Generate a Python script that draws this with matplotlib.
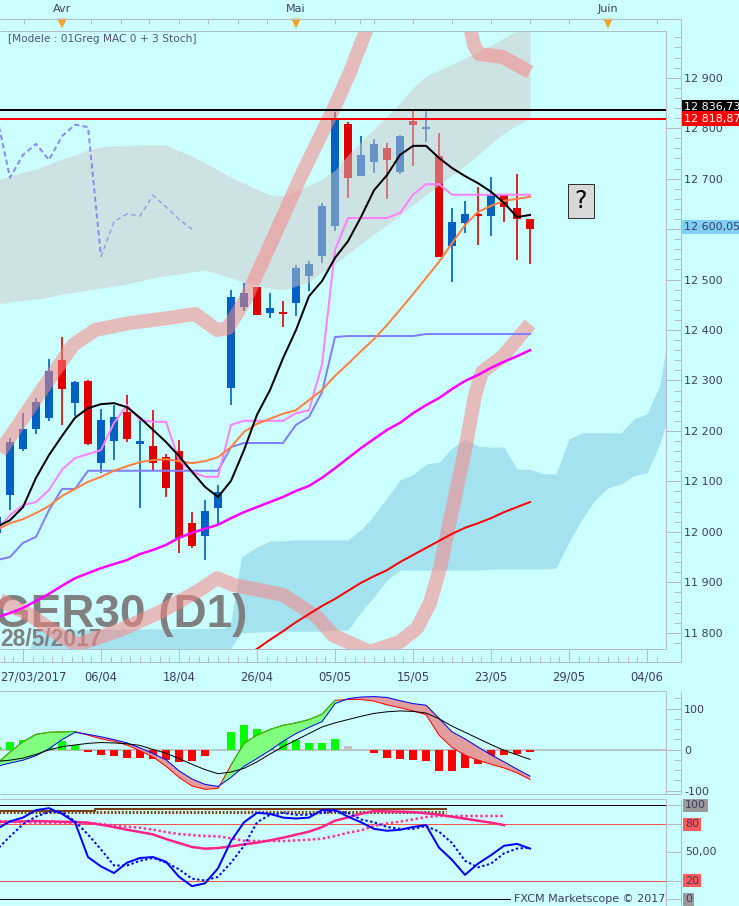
import numpy as np
import matplotlib
matplotlib.use("Agg")
import matplotlib.pyplot as plt
from matplotlib.patches import Rectangle
from matplotlib.transforms import blended_transform_factory
from matplotlib.ticker import FixedLocator, MultipleLocator, FuncFormatter

W, H, DPI = 739, 906, 100
PX = 72.0 / DPI          # one pixel in points
BG = "#ccffff"
FRAME = "#b4bccc"
TXT = "#3c3c64"
UP, DOWN = "#0060c4", "#e00000"

# ---- daily candles, index 40 = 26/05/2017
idx = np.arange(-1, 41)
opens = [11998, 12072, 12164, 12204, 12225, 12340, 12256, 12299, 12137, 12180, 12238, 12174, 12170, 12149,
         12160, 12018, 11992, 12048, 12286, 12446, 12485, 12434, 12436, 12454, 12507, 12547, 12606, 12809,
         12706, 12732, 12761, 12714, 12814, 12798, 12745, 12567, 12613, 12630, 12626, 12667, 12642, 12620]
highs = [12040, 12185, 12235, 12265, 12342, 12387, 12299, 12300, 12243, 12251, 12271, 12228, 12241, 12154,
         12182, 12040, 12063, 12093, 12479, 12494, 12486, 12474, 12458, 12529, 12537, 12652, 12833, 12813,
         12784, 12778, 12771, 12786, 12834, 12837, 12790, 12642, 12656, 12684, 12703, 12667, 12709, 12620]
lows = [11988, 12043, 12160, 12194, 12220, 12212, 12229, 12173, 12117, 12142, 12177, 12047, 12121, 12068,
        11958, 11967, 11944, 12013, 12251, 12438, 12429, 12423, 12406, 12428, 12478, 12533, 12597, 12661,
        12705, 12712, 12660, 12709, 12725, 12773, 12545, 12496, 12593, 12568, 12587, 12615, 12539, 12530]
closes = [12029, 12177, 12204, 12258, 12319, 12283, 12297, 12174, 12222, 12227, 12184, 12180, 12136, 12087,
          11988, 11972, 12041, 12079, 12466, 12474, 12430, 12444, 12431, 12523, 12531, 12646, 12821, 12702,
          12747, 12769, 12737, 12784, 12807, 12802, 12545, 12615, 12630, 12626, 12667, 12644, 12619, 12600]

black_line = [12010, 12023, 12049, 12107, 12152, 12190, 12226, 12245, 12253, 12255, 12247, 12226, 12202, 12178,
              12150, 12119, 12089, 12069, 12101, 12162, 12232, 12281, 12344, 12400, 12467, 12497, 12543, 12576,
              12624, 12677, 12707, 12747, 12765, 12765, 12741, 12721, 12705, 12691, 12674, 12652, 12624, 12628]
pink_line = [12004, 12033, 12053, 12059, 12083, 12123, 12146, 12154, 12162, 12216, 12251, 12222, 12218, 12218,
             12142, 12119, 12109, 12109, 12212, 12220, 12220, 12220, 12220, 12235, 12241, 12331, 12559, 12622,
             12622, 12622, 12622, 12632, 12668, 12689, 12689, 12668, 12668, 12668, 12668, 12668, 12668, 12668]
violet_line = [11944, 11950, 11978, 11990, 12043, 12085, 12085] + [12121] * 11 + [12168] + [12176] * 4 + \
              [12212, 12228, 12277, 12386] + [12388] * 6 + [12392] * 9
orange_line = [12004, 12017, 12025, 12037, 12051, 12071, 12085, 12099, 12109, 12121, 12130, 12138, 12142, 12144,
               12140, 12136, 12140, 12148, 12168, 12198, 12214, 12224, 12234, 12241, 12261, 12281, 12309, 12333,
               12358, 12382, 12410, 12440, 12471, 12503, 12535, 12572, 12608, 12634, 12646, 12656, 12660, 12664]
magenta_line = [11831, 11839, 11849, 11863, 11877, 11893, 11908, 11918, 11928, 11936, 11944, 11956, 11964, 11974,
                11988, 11998, 12006, 12014, 12027, 12039, 12049, 12059, 12069, 12081, 12091, 12107, 12126, 12146,
                12166, 12184, 12202, 12216, 12235, 12251, 12265, 12283, 12299, 12311, 12325, 12337, 12348, 12360]
red_line = [11752, 11768, 11786, 11803, 11821, 11837, 11853, 11867, 11883, 11899, 11912, 11924, 11940, 11954,
            11968, 11982, 11996, 12008, 12017, 12027, 12039, 12049, 12059]   # index 18 .. 40

cloud_top = [12697, 12705, 12713, 12719, 12729, 12739, 12747, 12757, 12763, 12765, 12765, 12767, 12767, 12767,
             12755, 12745, 12731, 12717, 12703, 12691, 12679, 12668, 12666, 12675, 12687, 12699, 12717, 12747,
             12773, 12798, 12824, 12850, 12880, 12903, 12915, 12927, 12939, 12951, 12965, 12979, 12993, 13005]
cloud_bot = [12452, 12455, 12459, 12461, 12465, 12471, 12475, 12479, 12483, 12487, 12491, 12497, 12503, 12507,
             12511, 12515, 12519, 12511, 12503, 12495, 12489, 12483, 12479, 12487, 12495, 12515, 12531, 12551,
             12570, 12590, 12608, 12628, 12648, 12668, 12687, 12707, 12725, 12747, 12769, 12790, 12806, 12820]

cloud2_x = [1.5, 2, 16.5, 17, 17.8, 19, 20, 21, 22, 23, 24, 25, 26, 27, 28, 29, 30, 31, 32, 33, 34, 35, 36,
            37, 38, 39, 40, 41, 42, 43, 44, 45, 46, 47, 48, 49, 50, 50.5]
cloud2_top = [11768, 11805, 11809, 11822, 11950, 11970, 11982, 11982, 11984, 11984, 11984, 11984, 11984, 12004,
              12033, 12067, 12103, 12113, 12134, 12138, 12166, 12184, 12170, 12168, 12168, 12124, 12124, 12115,
              12115, 12184, 12196, 12196, 12196, 12196, 12224, 12234, 12291, 12374]
cloud2_bot = [11746, 11746, 11746, 11770, 11800, 11801, 11803, 11803, 11803, 11803, 11803, 11805, 11805, 11841,
              11871, 11904, 11924, 11924, 11924, 11924, 11924, 11924, 11924, 11926, 11926, 11926, 11926, 11926,
              11928, 11980, 12025, 12063, 12087, 12095, 12111, 12117, 12176, 12216]

band_a_x = [-0.77, 1.15, 3.08, 4.85, 6.54, 9.23, 12.31, 14.23, 15.92, 16.77, 18.08, 19.85, 22.31, 24.85,
            26.15, 27.38, 28.08]
band_a_y = [12158, 12232, 12305, 12370, 12400, 12414, 12424, 12432, 12400, 12404, 12459, 12559, 12701, 12836,
            12911, 12993, 13034]
band_b_x = [35.23, 35.46, 35.69, 36.08, 37.92, 40.0]
band_b_y = [13024, 12993, 12965, 12947, 12941, 12911]
band_c_x = [-0.77, 1.54, 3.85, 5.15, 8.46, 11.54, 14.62, 15.92, 17.15, 21.0, 23.62, 24.85, 27.69, 30.0,
            31.31, 32.31, 33.08, 33.69, 34.46, 35.15, 35.77, 36.31, 37.92, 40.0]
band_c_y = [11865, 11835, 11795, 11776, 11805, 11841, 11885, 11908, 11895, 11875, 11831, 11795, 11762, 11782,
            11809, 11859, 11928, 12004, 12097, 12182, 12271, 12317, 12348, 12412]

last_high = 12836.73
red_level = 12818.87
last_close = 12600.05
chikou_shift = 26

# ---- MACD panel
macd_a = [-34, -6, 19, 37, 42, 43, 44, 35, 26, 20, 11, -3, -18, -41, -68, -89, -97, -95, -38, 15, 35, 49,
          59, 65, 73, 86, 120, 122, 122, 118, 109, 102, 94, 85, 35, 5, -14, -26, -36, -45, -57, -73]
macd_b = [-41, -33, -26, -15, 2, 24, 42, 37, 31, 24, 16, 4, -10, -25, -52, -72, -85, -90, -68, -41, -22, -2,
          20, 39, 54, 68, 112, 124, 128, 129, 127, 119, 112, 108, 76, 43, 26, 6, -13, -30, -48, -65]
macd_sig = [-29, -26, -21, -12, -1, 7, 11, 15, 17, 16, 14, 10, 0, -9, -22, -36, -49, -59, -55, -46, -30, -11,
            7, 23, 39, 55, 65, 73, 81, 88, 92, 94, 93, 89, 75, 57, 42, 27, 12, -2, -13, -24]
macd_hist = [6, 19, 23, 28, 28, 21, 11, -6, -14, -15, -20, -20, -24, -26, -30, -28, -15, 0, 43, 59, 51, 43,
             27, 23, 16, 16, 25, 8, 0, -8, -20, -24, -26, -28, -52, -52, -45, -36, -24, -14, -10, -6]
hist_neutral = [26]

# ---- stochastics panel
sto_k = [75, 83, 87, 95, 97, 91, 82, 45, 35, 28, 39, 44, 45, 40, 24, 14, 17, 33, 62, 82, 92, 91, 87, 86, 87,
         95, 95, 88, 82, 75, 73, 74, 77, 79, 55, 42, 26, 38, 47, 57, 59, 54]
sto_d = [53, 67, 80, 88, 93, 93, 83, 69, 53, 36, 36, 41, 44, 39, 32, 22, 20, 24, 39, 57, 82, 90, 92, 90, 90,
         92, 94, 92, 85, 82, 77, 75, 75, 78, 72, 60, 41, 34, 38, 49, 54, 55]
sto_slow = [82.3, 82.6, 83, 83.3, 83, 82.6, 82.3, 81.6, 79.4, 76.9, 74.1, 71.6, 69.1, 64.2, 59.9, 55.7, 53.9,
            54.6, 56.4, 58.5, 60.3, 62.8, 65.6, 68.8, 72, 76.9, 83.7, 87.2, 91.1, 94, 93.6, 93.3, 92.9, 91.5,
            90.1, 87.9, 85.8, 83.7, 81.6, 79.1]           # index -1 .. 38
sto_slow_d = [83.3, 82.6, 81.9, 81.6, 81.6, 81.6, 81.6, 81.2, 80.1, 78.7, 77.3, 76.2, 74.1, 71.6, 69.5, 68.4,
              67.4, 67, 64.9, 62.4, 62.1, 62.1, 62.1, 62.8, 63.5, 64.5, 67.4, 70.9, 73.4, 78, 80.9, 82.6, 85.1,
              87.6, 88.7, 88.7, 88.7, 88.7, 88.7, 88.7]
brown_x = [-1, 6.5, 6.5, 33.5]
brown_solid = [94.5, 94.5, 96.5, 96.5]
brown_dot = [93, 93, 93, 93]
sto_levels = [100, 80, 50, 20, 0]

# ---- axis labels
date_ticks = [1, 7, 13, 19, 25, 31, 37, 43, 49]
date_labels = ["27/03/2017", "06/04", "18/04", "26/04", "05/05", "15/05", "23/05", "29/05", "04/06"]
month_ticks = [4, 22, 46]
month_labels = ["Avr", "Mai", "Juin"]
top_ticks = [1.1, 6.2, 8.5, 10.7, 13, 15.2, 17.5, 19.8, 25, 26.9, 28, 31, 34, 37, 40, 43, 49.8]

XLIM = (-0.77, 50.46)

plt.rcParams["font.family"] = ["DejaVu Sans"]
fig = plt.figure(figsize=(W / DPI, H / DPI), dpi=DPI, facecolor=BG)


def panel(top, bottom):
    a = fig.add_axes([0, 1 - bottom / H, 666 / W, (bottom - top) / H])
    a.set_facecolor(BG)
    a.set_xlim(*XLIM)
    for s in a.spines.values():
        s.set_visible(False)
    a.spines["right"].set_position(("outward", 15 * PX))
    a.spines["bottom"].set_position(("outward", 13 * PX))
    a.yaxis.tick_right()
    a.tick_params(axis="y", which="both", direction="in", color=FRAME, width=PX,
                  labelcolor=TXT, labelsize=8, pad=3 * PX)
    a.tick_params(axis="y", which="major", length=15 * PX)
    a.tick_params(axis="y", which="minor", length=7 * PX)
    a.set_xticks([])
    return a


def fmt_price(v):
    return f"{v:,.2f}".replace(",", " ").replace(".", ",")


# ================= main price panel
ax = panel(31, 649)
ax.set_ylim(11767.7, 12992.6)
ax.yaxis.set_major_locator(MultipleLocator(100))
ax.yaxis.set_minor_locator(MultipleLocator(20))
ax.yaxis.set_major_formatter(FuncFormatter(lambda v, p: f"{v:,.0f}".replace(",", " ")))
ax.xaxis.set_major_locator(FixedLocator(date_ticks))
ax.xaxis.set_minor_locator(FixedLocator(np.arange(date_ticks[0] - 1.5, XLIM[1], 0.75)))
ax.tick_params(axis="x", which="both", direction="in", color=FRAME, width=PX, labelbottom=False)
ax.tick_params(axis="x", which="major", length=13 * PX)
ax.tick_params(axis="x", which="minor", length=6 * PX)

trx = blended_transform_factory(ax.transData, ax.transAxes)
for k, (t, lab) in enumerate(zip(date_ticks, date_labels)):
    if k == 0:
        ax.text(0.0, -28 / 618, lab, transform=ax.transAxes, ha="left", va="center",
                fontsize=8.3, color=TXT, clip_on=False)
    else:
        ax.text(t, -28 / 618, lab, transform=trx, ha="center", va="center",
                fontsize=8.3, color=TXT, clip_on=False)

# lower (blue) cloud
ax.fill_between(cloud2_x, cloud2_bot, cloud2_top, color="#a4e2f0", lw=0, zorder=1)

# watermark
ax.text(-5 / 666, 22 / 618, "GER30 (D1)", transform=ax.transAxes, fontsize=33, fontweight="bold",
        family=["Liberation Sans", "DejaVu Sans"], color="#808080", ha="left", va="baseline", zorder=1.5)
ax.text(0.0, 2.5 / 618, "28/5/2017", transform=ax.transAxes, fontsize=16.5, fontweight="bold",
        family=["Liberation Sans", "DejaVu Sans"], color="#808080", ha="left", va="baseline", zorder=1.5)

# candles
o, h, l, c = (np.array(v, float) for v in (opens, highs, lows, closes))
col = [UP if cc >= oo else DOWN for oo, cc in zip(o, c)]
ax.vlines(idx, l, h, colors=col, lw=1.2, zorder=3)
ax.bar(idx, np.maximum(np.abs(c - o), 3.5), bottom=np.minimum(o, c), width=0.62,
       color=col, lw=0, zorder=3.1)

# upper (grey) cloud and the pink bands, translucent over the candles
ax.fill_between(idx, cloud_bot, cloud_top, color="#cec8c8", alpha=0.5, lw=0, zorder=4)
for bx, by in ((band_a_x, band_a_y), (band_b_x, band_b_y), (band_c_x, band_c_y)):
    ax.plot(bx, by, color="#fb8585", alpha=0.55, lw=14 * PX, solid_capstyle="butt",
            solid_joinstyle="round", zorder=4.5)

# chikou (closes shifted back)
cx = idx - chikou_shift
ax.plot(cx[25:35], c[25:35], color="#8a8af0", lw=2 * PX, dashes=(2.6, 1.6), zorder=5)
ax.plot(cx[34:], c[34:], color="#9c9ce4", lw=1.5 * PX, dashes=(3.2, 2.2), zorder=5)

ax.plot(idx, violet_line, color="#8080ff", lw=2 * PX, zorder=6)
ax.plot(idx, pink_line, color="#ff80ff", lw=2 * PX, zorder=6)
ax.plot(idx, orange_line, color="#ff8040", lw=2 * PX, zorder=6)
ax.plot(idx, magenta_line, color="#ff00ff", lw=2.5 * PX, zorder=6)
ax.plot(idx[19:], red_line, color="#ff0000", lw=2 * PX, zorder=6)
ax.plot(idx, black_line, color="black", lw=2 * PX, zorder=6.5)

ax.axhline(last_high, color="black", lw=2 * PX, zorder=7)
ax.axhline(red_level, color="#ff0000", lw=2 * PX, zorder=7)

trp = blended_transform_factory(ax.transAxes, ax.transData)
for val, dy, fc, tc in ((last_high, 5, "black", "white"), (red_level, 0, "#ff0000", "white"),
                        (last_close, 4.5, "#80d0f6", TXT)):
    ax.text(683.5 / 666, val + dy, fmt_price(val), transform=trp, ha="left", va="center",
            fontsize=8, color=tc, clip_on=False, zorder=8,
            bbox=dict(boxstyle="square,pad=0.2", fc=fc, ec="none"))

# ================= MACD panel
axm = panel(691, 794)
axm.set_ylim(-108.5, 142.7)
axm.yaxis.set_major_locator(FixedLocator([-100, 0, 100]))
axm.yaxis.set_minor_locator(MultipleLocator(25))
axm.yaxis.set_major_formatter(FuncFormatter(lambda v, p: f"{v:.0f}"))
a_, b_ = np.array(macd_a, float), np.array(macd_b, float)
hcol = ["#c0c0c0" if i in hist_neutral else ("#00ff00" if v > 0 else "#ff0000")
        for i, v in zip(idx, macd_hist)]
axm.axhline(0, color="#b4b4b4", lw=1.5 * PX, zorder=1)
axm.bar(idx, macd_hist, width=0.62, color=hcol, lw=0, zorder=2)
axm.fill_between(idx, a_, b_, where=a_ >= b_, interpolate=True, color="#80ff80", lw=0, zorder=3)
axm.fill_between(idx, a_, b_, where=a_ < b_, interpolate=True, color="#e39d9d", lw=0, zorder=3)
axm.plot(idx, a_, color="#ff0000", lw=PX, zorder=4)
axm.plot(idx, np.ma.masked_where(a_ < b_, a_), color="#00e000", lw=PX, zorder=4)
axm.plot(idx, b_, color="#0000ff", lw=PX, zorder=4.5)
axm.plot(idx, macd_sig, color="black", lw=PX, zorder=4.5)

# ================= stochastics panel
axs = panel(799, 904)
axs.set_ylim(-5, 106.8)
axs.yaxis.set_major_locator(FixedLocator(sto_levels))
axs.tick_params(axis="y", labelright=False)
axs.axhline(100, color="black", lw=PX, zorder=1)
axs.axhline(0, xmax=510 / 666, color="black", lw=PX, zorder=1)
axs.axhline(80, color="#ff5050", lw=PX, zorder=1)
axs.axhline(20, color="#ff5050", lw=PX, zorder=1)
axs.plot(brown_x, brown_dot, color="#7a4010", lw=3 * PX, dashes=(0.6, 0.6), zorder=2)
axs.plot(brown_x, brown_solid, color="#7a4010", lw=2 * PX, zorder=2)
axs.plot(idx[:40], sto_slow_d, color="#ff3399", lw=2.5 * PX, dashes=(1, 1), zorder=3)
axs.plot(idx[:40], sto_slow, color="#ff2288", lw=2.5 * PX, zorder=3)
axs.plot(idx, sto_d, color="#0000ff", lw=2 * PX, dashes=(1.2, 1.2), zorder=4)
axs.plot(idx, sto_k, color="#0000ff", lw=2 * PX, zorder=4)
trs = blended_transform_factory(axs.transAxes, axs.transData)
box_col = {100: "#9a9a9a", 80: "#ff5a5a", 20: "#ff5a5a", 0: "#9a9a9a"}
for v in sto_levels:
    lab = "50,00" if v == 50 else str(v)
    bb = dict(boxstyle="square,pad=0.15", fc=box_col[v], ec="none") if v in box_col else None
    axs.text(685 / 666, v, lab, transform=trs, ha="left", va="center", fontsize=8,
             color=TXT, clip_on=False, bbox=bb)

# ================= top month strip
axt = fig.add_axes([0, 1 - 31 / H, 666 / W, 31 / H])
axt.set_xlim(*XLIM)
axt.set_ylim(31, 0)
axt.axis("off")
axt.vlines(top_ticks, 19, 23.5, color=FRAME, lw=PX)
axt.scatter(month_ticks, [23.5] * len(month_ticks), marker="v", s=50, color="#f5a424",
            edgecolors="none", clip_on=False, zorder=3)
for t, m in zip(month_ticks, month_labels):
    axt.text(t, 9, m, ha="center", va="center", fontsize=8, color=TXT)

# ================= frame lines and free text (pixel coordinates)
deco = fig.add_axes([0, 0, 1, 1], zorder=20)
deco.set_xlim(0, W)
deco.set_ylim(H, 0)
deco.axis("off")
segs = [((0, 19), (681, 19)), ((0, 31), (666, 31)), ((666, 31), (666, 649)), ((0, 649), (666, 649)),
        ((0, 662), (681, 662)), ((681, 19), (681, 662)),
        ((0, 690.5), (666, 690.5)), ((666, 690.5), (666, 794)), ((681, 690.5), (681, 794)),
        ((0, 794), (681, 794)),
        ((0, 799), (666, 799)), ((666, 799), (666, 906)), ((681, 799), (681, 906))]
for (x0, y0), (x1, y1) in segs:
    deco.plot([x0, x1], [y0, y1], color=FRAME, lw=PX, solid_capstyle="butt")

deco.text(8, 39.5, "[Modele : 01Greg MAC 0 + 3 Stoch]", ha="left", va="center", fontsize=7.6,
          color="#50507a")
deco.add_patch(Rectangle((568, 184), 26, 34, fc="#d8d8d8", ec="#303030", lw=PX))
deco.text(581, 201.5, "?", ha="center", va="center", fontsize=17, color="black")
deco.text(665, 898.5, "FXCM Marketscope \u00a9 2017", ha="right", va="center", fontsize=8, color=TXT)

fig.savefig("out.png", dpi=DPI, facecolor=BG)
